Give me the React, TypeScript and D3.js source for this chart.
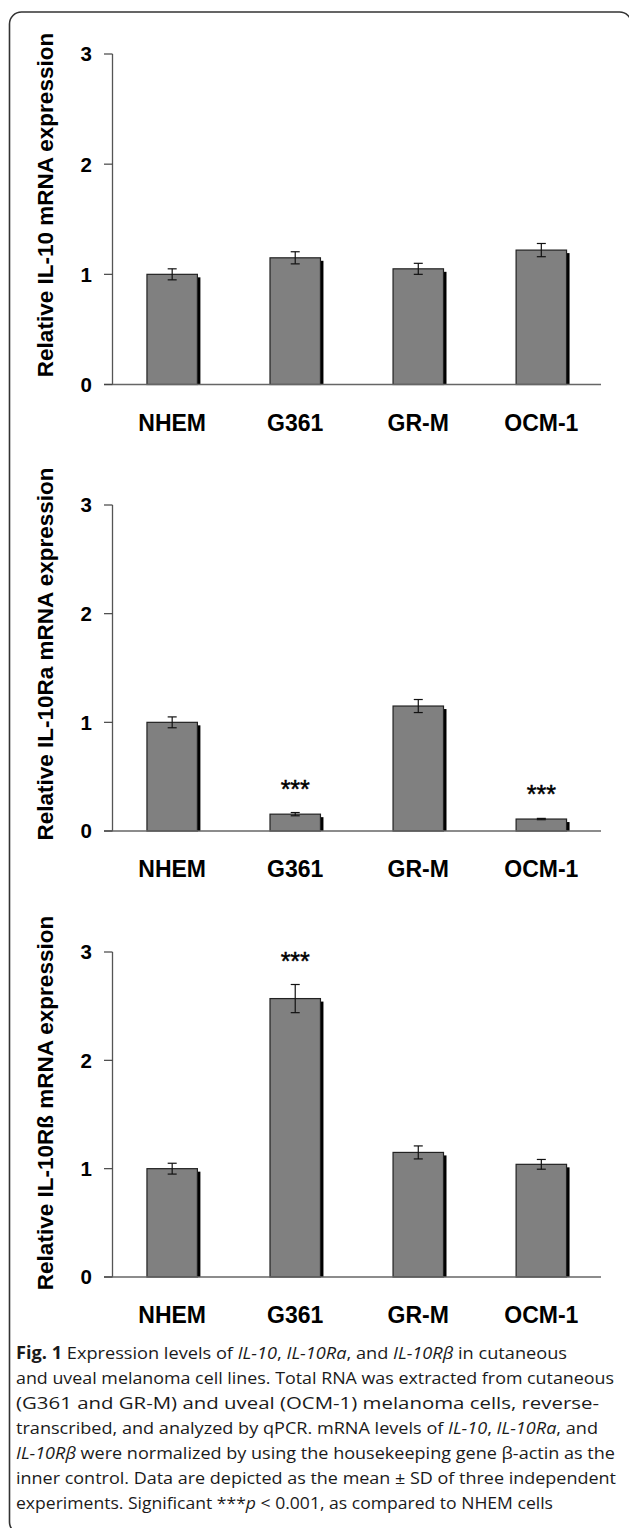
import React from "react";
import * as d3 from "d3";

const categories = ["NHEM", "G361", "GR-M", "OCM-1"];
const yTicks = [0, 1, 2, 3];

const il10Mean = [1.0, 1.15, 1.05, 1.22];
const il10Sd = [0.05, 0.055, 0.05, 0.06];
const il10Sig = [false, false, false, false];

const il10raMean = [1.0, 0.155, 1.15, 0.11];
const il10raSd = [0.05, 0.015, 0.06, 0.006];
const il10raSig = [false, true, false, true];

const il10rbMean = [1.0, 2.57, 1.15, 1.04];
const il10rbSd = [0.05, 0.13, 0.06, 0.045];
const il10rbSig = [false, true, false, false];

const titles = [
  "Relative IL-10 mRNA expression",
  "Relative IL-10Ra mRNA expression",
  "Relative IL-10Rß mRNA expression",
];

const W = 629;
const H = 1528;
const AX = "'Liberation Sans', Arial, Helvetica, sans-serif";
const CAP = "'Open Sans', 'Noto Sans', sans-serif";

type PanelSpec = {
  mean: number[];
  sd: number[];
  sig: boolean[];
  title: string;
  top: number;
  bottom: number;
  titleY: number;
};

const panels: PanelSpec[] = [
  { mean: il10Mean, sd: il10Sd, sig: il10Sig, title: titles[0], top: 54, bottom: 384.5, titleY: 205 },
  { mean: il10raMean, sd: il10raSd, sig: il10raSig, title: titles[1], top: 505, bottom: 831, titleY: 654 },
  { mean: il10rbMean, sd: il10rbSd, sig: il10rbSig, title: titles[2], top: 952, bottom: 1277, titleY: 1103 },
];

const x = d3
  .scaleBand<string>()
  .domain(categories)
  .range([112.5, 601])
  .paddingInner(0.59)
  .paddingOuter(0.28);

function Panel({ p }: { p: PanelSpec }) {
  const y = d3.scaleLinear().domain([0, 3]).range([p.bottom, p.top]);
  const bw = x.bandwidth();
  return (
    <g>
      {categories.map((c, i) => (
        <rect
          key={"s" + c}
          x={(x(c) as number) + 3}
          y={y(p.mean[i]) + 3}
          width={bw}
          height={y(0) - y(p.mean[i]) - 3}
          fill="#000"
        />
      ))}
      {categories.map((c, i) => (
        <rect
          key={"b" + c}
          x={x(c) as number}
          y={y(p.mean[i])}
          width={bw}
          height={y(0) - y(p.mean[i])}
          fill="#808080"
          stroke="#222"
          strokeWidth={1.2}
        />
      ))}
      {categories.map((c, i) => {
        const cx = (x(c) as number) + bw / 2;
        const hi = y(p.mean[i] + p.sd[i]);
        const lo = y(p.mean[i] - p.sd[i]);
        return (
          <g key={"e" + c} stroke="#111" strokeWidth={1.2}>
            <line x1={cx} x2={cx} y1={hi} y2={lo} />
            <line x1={cx - 4.5} x2={cx + 4.5} y1={hi} y2={hi} />
            <line x1={cx - 4.5} x2={cx + 4.5} y1={lo} y2={lo} />
          </g>
        );
      })}
      {categories.map((c, i) =>
        p.sig[i] ? (
          <text
            key={"t" + c}
            x={(x(c) as number) + bw / 2}
            y={y(p.mean[i] + p.sd[i]) - 15}
            textAnchor="middle"
            fontFamily={AX}
            fontSize={25}
            fill="#000"
            stroke="#000"
            strokeWidth={0.5}
          >
            ***
          </text>
        ) : null
      )}
      <line x1={112.5} x2={112.5} y1={y(3)} y2={y(0)} stroke="#555" strokeWidth={1.3} />
      <line x1={104} x2={601} y1={y(0)} y2={y(0)} stroke="#666" strokeWidth={1.3} />
      {yTicks.map((t) => (
        <g key={"yt" + t}>
          <line x1={104} x2={112.5} y1={y(t)} y2={y(t)} stroke="#444" strokeWidth={1.2} />
          <text
            x={92}
            y={y(t)}
            dy="0.36em"
            textAnchor="end"
            fontFamily={AX}
            fontWeight="bold"
            fontSize={20.5}
            fill="#000"
          >
            {t}
          </text>
        </g>
      ))}
      {categories.map((c) => (
        <text
          key={"xl" + c}
          x={(x(c) as number) + bw / 2}
          y={y(0) + 46}
          textAnchor="middle"
          fontFamily={AX}
          fontWeight="bold"
          fontSize={23}
          fill="#000"
        >
          {c}
        </text>
      ))}
      <text
        transform={`translate(53,${p.titleY}) rotate(-90)`}
        textAnchor="middle"
        fontFamily={AX}
        fontWeight="bold"
        fontSize={22.5}
        fill="#000"
      >
        {p.title}
      </text>
    </g>
  );
}

type Seg = { t: string; i?: boolean; b?: boolean };
const captionLines: Seg[][] = [
  [
    { t: "Fig. 1", b: true },
    { t: " Expression levels of " },
    { t: "IL-10", i: true },
    { t: ", " },
    { t: "IL-10Ra", i: true },
    { t: ", and " },
    { t: "IL-10Rβ", i: true },
    { t: " in cutaneous" },
  ],
  [{ t: "and uveal melanoma cell lines. Total RNA was extracted from cutaneous" }],
  [{ t: "(G361 and GR-M) and uveal (OCM-1) melanoma cells, reverse-" }],
  [
    { t: "transcribed, and analyzed by qPCR. mRNA levels of " },
    { t: "IL-10", i: true },
    { t: ", " },
    { t: "IL-10Ra", i: true },
    { t: ", and" },
  ],
  [
    { t: "IL-10Rβ", i: true },
    { t: " were normalized by using the housekeeping gene β-actin as the" },
  ],
  [{ t: "inner control. Data are depicted as the mean ± SD of three independent" }],
  [
    { t: "experiments. Significant ***" },
    { t: "p", i: true },
    { t: " < 0.001, as compared to NHEM cells" },
  ],
];
const captionEnds = [567, 614, 599, 598, 615, 616, 553];

export default function App() {
  return (
    <svg
      width={W}
      height={H}
      viewBox={`0 0 ${W} ${H}`}
      style={{ position: "absolute", left: 0, top: 0, background: "#fff" }}
    >
      <rect x={0} y={0} width={W} height={H} fill="#fff" />
      <rect x={9.5} y={12} width={622} height={1522} rx={12} ry={12} fill="none" stroke="#333" strokeWidth={1.6} />
      {panels.map((p, k) => (
        <Panel key={k} p={p} />
      ))}
      {captionLines.map((segs, k) => (
        <text
          key={"c" + k}
          x={16}
          y={1359 + k * 25}
          fontFamily={CAP}
          fontSize={17.2}
          fill="#1a1a1a"
          textLength={captionEnds[k] - 16}
          lengthAdjust="spacingAndGlyphs"
        >
          {segs.map((s, j) => (
            <tspan key={j} fontStyle={s.i ? "italic" : "normal"} fontWeight={s.b ? "bold" : "normal"}>
              {s.t}
            </tspan>
          ))}
        </text>
      ))}
    </svg>
  );
}
